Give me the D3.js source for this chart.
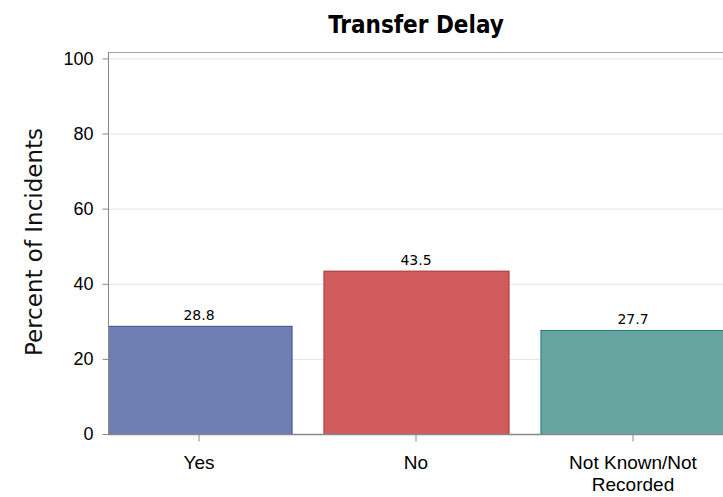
<!DOCTYPE html>
<html>
<head>
<meta charset="utf-8">
<script src="https://cdn.jsdelivr.net/npm/d3@7"></script>
<style>
  body { margin: 0; background: #fff; }
  svg { display: block; }
</style>
</head>
<body>
<svg id="chart"></svg>
<script>
// data
const categories = ["Yes", "No", "Not Known/Not Recorded"];
const percents = [28.8, 43.5, 27.7];
const yTicks = [0, 20, 40, 60, 80, 100];
const fills = ["#6f7eb3", "#d05b5b", "#67a6a0"];
const strokes = ["#3d4b8c", "#a83636", "#1f7a72"];

let width = 723;
let height = 497;

let svg = d3.select("#chart")
    .attr("width", width)
    .attr("height", height);

// plot box
let plotTop = 52, plotBottom = 434, plotLeft = 108;

let x = d3.scaleBand()
    .domain(categories)
    .range([90.5, 741.5])
    .paddingInner(0.147)
    .paddingOuter(0.0735);

let y = d3.scaleLinear()
    .domain([0, 101.7])
    .range([plotBottom, plotTop]);

svg.append("defs").append("clipPath")
    .attr("id", "plotclip")
    .append("rect")
    .attr("x", plotLeft)
    .attr("y", plotTop)
    .attr("width", width - plotLeft)
    .attr("height", plotBottom - plotTop);

// gridlines
svg.append("g")
    .selectAll("line")
    .data(yTicks.filter(d => d > 0))
    .enter().append("line")
    .attr("x1", plotLeft)
    .attr("x2", width)
    .attr("y1", d => y(d) + 0.5)
    .attr("y2", d => y(d) + 0.5)
    .attr("stroke", "#e3e3e3")
    .attr("stroke-width", 1);

// frame top
svg.append("line")
    .attr("x1", plotLeft)
    .attr("x2", width)
    .attr("y1", plotTop + 0.5)
    .attr("y2", plotTop + 0.5)
    .attr("stroke", "#a8a8a8");

// bars
svg.append("g")
    .attr("clip-path", "url(#plotclip)")
    .selectAll("rect")
    .data(categories)
    .enter().append("rect")
    .attr("x", d => x(d) + 0.5)
    .attr("y", (d, i) => y(percents[i]) + 0.5)
    .attr("width", x.bandwidth())
    .attr("height", (d, i) => y(0) - y(percents[i]))
    .attr("fill", (d, i) => fills[i])
    .attr("stroke", (d, i) => strokes[i])
    .attr("stroke-width", 1);

// value labels
svg.append("g")
    .selectAll("text")
    .data(categories)
    .enter().append("text")
    .attr("x", d => x(d) + x.bandwidth() / 2)
    .attr("y", (d, i) => y(percents[i]) - 6)
    .attr("text-anchor", "middle")
    .style("font-family", "DejaVu Sans")
    .style("font-size", "14px")
    .attr("fill", "#000")
    .text((d, i) => percents[i].toFixed(1));

// y axis
let yAxis = svg.append("g")
    .attr("transform", `translate(${plotLeft + 0.5}, 0)`)
    .call(d3.axisLeft(y).tickValues(yTicks).tickSize(6).tickPadding(9));
yAxis.select(".domain").attr("stroke", "#888").attr("d", `M0,${plotTop}V${plotBottom}`);
yAxis.selectAll(".tick line").attr("stroke", "#888");
yAxis.selectAll(".tick text")
    .style("font-family", "Liberation Sans")
    .style("font-size", "18px")
    .attr("fill", "#000");

// x axis
let xAxis = svg.append("g")
    .attr("transform", `translate(0, ${plotBottom + 0.5})`)
    .call(d3.axisBottom(x).tickSize(7).tickPadding(14));
xAxis.select(".domain").attr("stroke", "#888").attr("stroke-width", 1.5).attr("d", `M${plotLeft},0H${width}`);
xAxis.selectAll(".tick line").attr("stroke", "#888");
xAxis.selectAll(".tick text")
    .style("font-family", "Liberation Sans")
    .style("font-size", "19px")
    .attr("fill", "#000")
    .each(function(d) {
        let t = d3.select(this);
        if (d === "Not Known/Not Recorded") {
            t.text(null);
            t.append("tspan").attr("x", 0).attr("dy", "0.71em").text("Not Known/Not");
            t.append("tspan").attr("x", 0).attr("dy", "1.16em").text("Recorded");
        }
    });

// y axis title
svg.append("text")
    .attr("transform", `translate(42, ${(plotTop + plotBottom) / 2 - 1}) rotate(-90)`)
    .attr("text-anchor", "middle")
    .style("font-family", "DejaVu Sans")
    .style("font-size", "23px")
    .attr("fill", "#111")
    .text("Percent of Incidents");

// chart title
svg.append("text")
    .attr("x", 416)
    .attr("y", 33)
    .attr("text-anchor", "middle")
    .style("font-family", "DejaVu Sans")
    .style("font-stretch", "condensed")
    .style("font-weight", "bold")
    .style("font-size", "24px")
    .attr("fill", "#000")
    .text("Transfer Delay");
</script>
</body>
</html>
